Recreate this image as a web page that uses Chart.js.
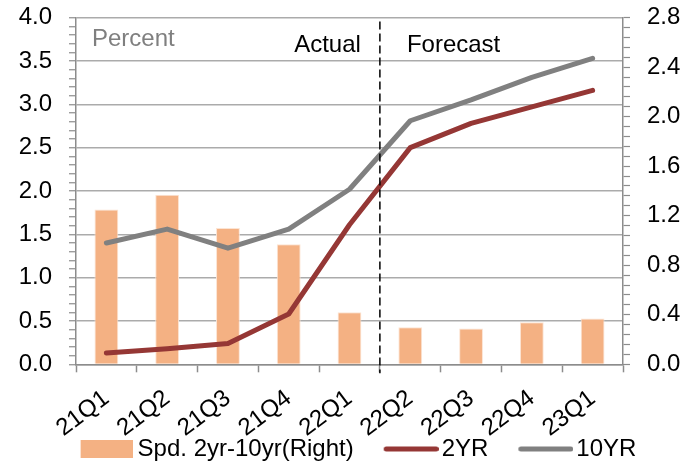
<!DOCTYPE html>
<html><head><meta charset="utf-8">
<script src="https://cdn.jsdelivr.net/npm/chart.js@4.4.0/dist/chart.umd.min.js"></script>
<style>html,body{margin:0;padding:0;background:#fff;}#wrap{width:696px;height:461px;}</style>
</head><body><div id="wrap"><canvas id="c" width="696" height="461"></canvas></div>
<script>
const categories = ['21Q1','21Q2','21Q3','21Q4','22Q1','22Q2','22Q3','22Q4','23Q1'];
const spread2s10s = [1.25, 1.37, 1.10, 0.97, 0.42, 0.30, 0.29, 0.34, 0.37];
const yield2yr = [0.13, 0.18, 0.24, 0.58, 1.61, 2.50, 2.78, 2.97, 3.16];
const yield10yr = [1.40, 1.56, 1.34, 1.56, 2.02, 2.81, 3.05, 3.31, 3.53];
const seriesNames = ['Spd. 2yr-10yr(Right)', '2YR', '10YR'];
const leftTickLabels = ['0.0','0.5','1.0','1.5','2.0','2.5','3.0','3.5','4.0'];
const rightTickLabels = ['0.0','0.4','0.8','1.2','1.6','2.0','2.4','2.8'];
const noteUnit = 'Percent';
const noteActual = 'Actual';
const noteForecast = 'Forecast';

const FONT = '"Liberation Sans", Arial, sans-serif';
const C_BAR = '#F4B183', C_BAR_EDGE = '#FCE4D3', C_2Y = '#953735', C_10Y = '#808080';
const C_GRID = '#ABABAB', C_AXIS = '#8C8C8C';

// legend samples: transparent lead-in so the sample sits just before its text
function sample(kind, color) {
  const cv = document.createElement('canvas');
  const g = cv.getContext('2d');
  if (kind === 'bar') {
    cv.width = 90; cv.height = 18;
    g.fillStyle = color; g.fillRect(38, 0, 52, 18);
  } else {
    cv.width = 94; cv.height = 8;
    g.strokeStyle = color; g.lineWidth = 5; g.lineCap = 'round';
    g.beginPath(); g.moveTo(41.5, 4); g.lineTo(91.5, 4); g.stroke();
  }
  return cv;
}
const samples = [sample('bar', C_BAR), sample('line', C_2Y), sample('line', C_10Y)];

const isMajor = (v, step) => Math.abs(v / step - Math.round(v / step)) < 1e-6;
const noPad = s => { s.paddingTop = 0; s.paddingBottom = 0; };

const notes = {
  id: 'notes',
  afterDatasetsDraw(chart) {
    const {ctx, chartArea: ca, scales: {x}} = chart;
    const xd = (x.getPixelForTick(4) + x.getPixelForTick(5)) / 2;
    ctx.save();
    ctx.setLineDash([8, 4]);
    ctx.strokeStyle = '#000'; ctx.lineWidth = 1.5;
    ctx.beginPath(); ctx.moveTo(xd, ca.top + 4); ctx.lineTo(xd, ca.bottom + 9); ctx.stroke();
    ctx.setLineDash([]);
    ctx.font = '24px ' + FONT; ctx.textBaseline = 'alphabetic';
    ctx.fillStyle = '#7F7F7F'; ctx.textAlign = 'left';
    ctx.fillText(noteUnit, ca.left + 16, 46);
    ctx.fillStyle = '#000'; ctx.textAlign = 'right';
    ctx.fillText(noteActual, xd - 19, 52);
    ctx.textAlign = 'left';
    ctx.fillText(noteForecast, xd + 27, 52);
    ctx.restore();
  }
};

new Chart(document.getElementById('c'), {
  data: {
    labels: categories,
    datasets: [
      {type: 'bar', label: seriesNames[0], data: spread2s10s, yAxisID: 'y2', order: 3,
       backgroundColor: C_BAR, borderColor: C_BAR_EDGE, borderWidth: 1,
       barPercentage: 0.4, categoryPercentage: 0.98},
      {type: 'line', label: seriesNames[1], data: yield2yr, yAxisID: 'y', order: 2,
       borderColor: C_2Y, borderWidth: 5, pointRadius: 0, borderCapStyle: 'round', borderJoinStyle: 'round', tension: 0},
      {type: 'line', label: seriesNames[2], data: yield10yr, yAxisID: 'y', order: 1,
       borderColor: C_10Y, borderWidth: 5, pointRadius: 0, borderCapStyle: 'round', borderJoinStyle: 'round', tension: 0}
    ]
  },
  options: {
    responsive: false, animation: false, devicePixelRatio: 1,
    layout: {padding: {top: 17.6, left: 0, right: 10, bottom: -10}},
    plugins: {
      tooltip: {enabled: false},
      legend: {
        position: 'bottom',
        labels: {
          usePointStyle: true, pointStyleWidth: 76, padding: 0, color: '#000',
          font: {family: FONT, size: 24},
          generateLabels: () => seriesNames.map((t, i) => ({
            text: t, pointStyle: samples[i], fillStyle: 'transparent', strokeStyle: 'transparent',
            lineWidth: 0, hidden: false, datasetIndex: i, fontColor: '#000'
          }))
        }
      }
    },
    scales: {
      x: {
        offset: true,
        grid: {offset: true, drawOnChartArea: false, tickLength: 8, tickColor: C_AXIS, tickWidth: 1.5},
        border: {color: C_AXIS, width: 1.5},
        ticks: {minRotation: 37, maxRotation: 37, autoSkip: false, color: '#000', font: {family: FONT, size: 24}, padding: 12},
        afterFit: s => { s.height = 72.7; s.paddingLeft = 0; s.paddingRight = 0; }
      },
      y: {
        position: 'left', min: 0, max: 4,
        ticks: {stepSize: 0.1, autoSkip: false, color: '#000', font: {family: FONT, size: 24}, padding: 17,
          callback: (v, i) => (i % 5 === 0 ? leftTickLabels[i / 5] : '')},
        grid: {color: c => (c.tick && isMajor(c.tick.value, 0.5) ? C_GRID : 'rgba(0,0,0,0)'), lineWidth: 1.5,
          tickColor: C_AXIS, tickLength: 7, tickWidth: 1.2},
        border: {color: C_AXIS, width: 1.5},
        afterFit: s => { s.width = 76; noPad(s); }
      },
      y2: {
        position: 'right', min: 0, max: 2.8,
        ticks: {stepSize: 0.08, autoSkip: false, color: '#000', font: {family: FONT, size: 24}, padding: 17,
          callback: (v, i) => (i % 5 === 0 ? rightTickLabels[i / 5] : '')},
        grid: {drawOnChartArea: false, tickColor: C_AXIS, tickLength: 7, tickWidth: 1.2},
        border: {color: C_AXIS, width: 1.5},
        afterFit: s => { s.width = 63; noPad(s); }
      }
    }
  },
  plugins: [notes]
});
</script></body></html>
